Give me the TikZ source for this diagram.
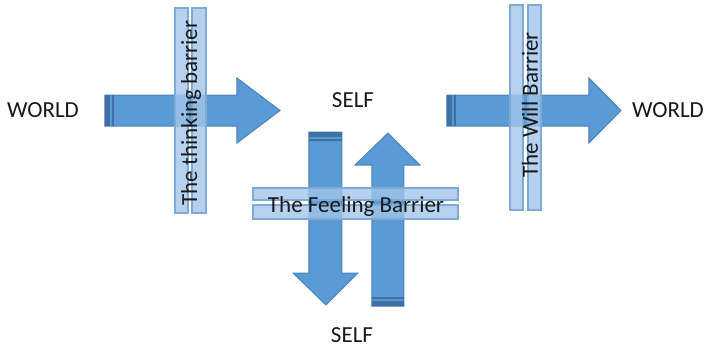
\documentclass[tikz,border=0pt]{standalone}
\usepackage{fontspec}
\setmainfont{Carlito}
\usepackage{tikz}
\usepackage{xcolor}
\usetikzlibrary{positioning}
\definecolor{arrfill}{HTML}{5B9BD5}
\definecolor{arrline}{HTML}{4A84BC}
\definecolor{arrband}{HTML}{3F6FA3}
\definecolor{barfill}{HTML}{A3C6EA}
\definecolor{barline}{HTML}{7EAAD8}
\tikzset{blk/.style={fill=arrfill, draw=arrline, line width=0.5pt},
         band/.style={fill=arrband, draw=none},
         barr/.style={fill=barfill, fill opacity=0.8, draw=barline, line width=0.6pt},
         lbl/.style={inner sep=0pt, font=\fontsize{11.5}{13}\selectfont, text=black!90}}

\begin{document}
\begin{tikzpicture}[x=0.5pt, y=-0.5pt]
                        \useasboundingbox (0, 0) rectangle (720, 349);
                        % the four block arrows
                        \draw[blk] (105, 95) -- (237, 95) -- (237, 78) -- (280, 110.5)
                            -- (237, 143) -- (237, 126) -- (105, 126) -- cycle;
                        \fill[band] (105, 95) rectangle (110, 126) (112, 95) rectangle (114, 126);
                        \draw[blk] (447, 95) -- (589, 95) -- (589, 78) -- (621, 110.5)
                            -- (589, 143) -- (589, 126) -- (447, 126) -- cycle;
                        \fill[band] (447, 95) rectangle (452, 126) (454, 95) rectangle (456, 126);
                        \draw[blk] (309, 132) -- (342, 132) -- (342, 273) -- (358, 273)
                            -- (326, 305) -- (293, 273) -- (309, 273) -- cycle;
                        \fill[band] (309, 132) rectangle (342, 137) (309, 139) rectangle (342, 141);
                        \draw[blk] (372, 306) -- (404, 306) -- (404, 165) -- (420, 165)
                            -- (388, 133) -- (355, 165) -- (372, 165) -- cycle;
                        \fill[band] (372, 306) rectangle (404, 301) (372, 299) rectangle (404, 297);

                        % barriers
                        \draw[barr] (175, 8) rectangle (188, 213) (192, 8) rectangle (206, 213);
                        \draw[barr] (510, 5) rectangle (523, 210) (528, 5) rectangle (541, 210);
                        \draw[barr] (253, 188) rectangle (458, 200) (253, 205) rectangle (458, 219);

                        \node[lbl] (wl) at (43, 110) {WORLD};
                        \node[lbl] (st) at (353, 100) {SELF};
                        \node[lbl] (sb) at (352, 335) {SELF};
                        \node[lbl] (wr) at (668, 110) {WORLD};
                        \node[lbl, rotate=90] (tb) at (191, 113) {The thinking barrier};
                        \node[lbl, rotate=90] (wb) at (530, 105) {The Will Barrier};
                        \node[lbl] (fb) at (356, 206) {The Feeling Barrier};
                    \end{tikzpicture}
\end{document}
